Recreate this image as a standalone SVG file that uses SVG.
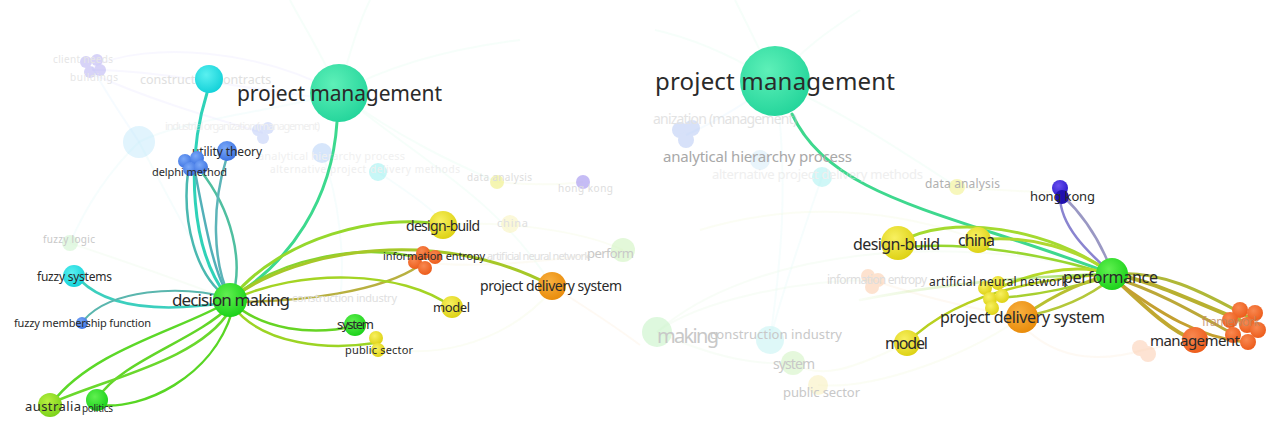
<svg xmlns="http://www.w3.org/2000/svg" width="1266" height="423" viewBox="0 0 1266 423">
<defs>
<radialGradient id="gPM" cx="40%" cy="35%" r="70%"><stop offset="0" stop-color="#5ef0b8"/><stop offset="1" stop-color="#22d49a"/></radialGradient>
<radialGradient id="gCyan" cx="40%" cy="35%" r="70%"><stop offset="0" stop-color="#5af0f0"/><stop offset="1" stop-color="#10d0d8"/></radialGradient>
<radialGradient id="gBlue" cx="40%" cy="35%" r="70%"><stop offset="0" stop-color="#7aa8f8"/><stop offset="1" stop-color="#3a70e0"/></radialGradient>
<radialGradient id="gGreen" cx="40%" cy="35%" r="70%"><stop offset="0" stop-color="#60f050"/><stop offset="1" stop-color="#18d018"/></radialGradient>
<radialGradient id="gLime" cx="40%" cy="35%" r="70%"><stop offset="0" stop-color="#b8f040"/><stop offset="1" stop-color="#78d018"/></radialGradient>
<radialGradient id="gYellow" cx="40%" cy="35%" r="70%"><stop offset="0" stop-color="#f8f060"/><stop offset="1" stop-color="#dcd010"/></radialGradient>
<radialGradient id="gOrange" cx="40%" cy="35%" r="70%"><stop offset="0" stop-color="#f8b040"/><stop offset="1" stop-color="#e88a08"/></radialGradient>
<radialGradient id="gRed" cx="40%" cy="35%" r="70%"><stop offset="0" stop-color="#f88850"/><stop offset="1" stop-color="#ec5a18"/></radialGradient>
<radialGradient id="gViolet" cx="40%" cy="35%" r="70%"><stop offset="0" stop-color="#6a50f0"/><stop offset="1" stop-color="#2a18c8"/></radialGradient>
<linearGradient id="gFadeL" x1="0" y1="0" x2="1" y2="0"><stop offset="0" stop-color="#88d430" stop-opacity="0.05"/><stop offset="0.6" stop-color="#88d430" stop-opacity="0.35"/><stop offset="1" stop-color="#88d430" stop-opacity="1"/></linearGradient>
</defs>
<style>
.e{fill:none;stroke-linecap:round}
.bg{fill:none;stroke-width:2;opacity:0.35}
.t{font-family:"Noto Sans","Open Sans",sans-serif;fill:#2a2a2a}
.f{font-family:"Noto Sans","Open Sans",sans-serif;fill:#c8c8c8}
.ff{font-family:"Noto Sans","Open Sans",sans-serif;fill:#e0e0e0}
</style>
<rect width="1266" height="423" fill="#ffffff"/>

<!-- faint background connectors -->
<g id="faint-connectors">
  <path class="bg" stroke="#e4f4ff" d="M92,67 C110,100 125,120 139,142"/>
  <path class="bg" stroke="#ece8ff" d="M92,67 C150,40 260,50 339,93"/>
  <path class="bg" stroke="#ece8ff" d="M92,70 C160,70 250,90 339,100"/>
  <path class="bg" stroke="#ece8ff" d="M95,75 C150,100 220,120 263,133"/>
  <path class="bg" stroke="#e4f8f8" d="M139,142 C180,120 280,110 339,93"/>
  <path class="bg" stroke="#e4f8f8" d="M139,142 C100,180 80,220 70,243"/>
  <path class="bg" stroke="#e4f8f8" d="M139,142 C170,200 200,260 230,300"/>
  <path class="bg" stroke="#e4fbf2" d="M339,93 C350,50 360,20 370,0"/>
  <path class="bg" stroke="#e4fbf2" d="M339,93 C320,50 300,20 290,0"/>
  <path class="bg" stroke="#e4fbf2" d="M339,93 C380,70 440,50 520,40"/>
  <path class="bg" stroke="#e4fbf2" d="M339,93 C400,140 470,170 497,182"/>
  <path class="bg" stroke="#e4fbf2" d="M339,93 C420,160 500,200 552,286"/>
  <path class="bg" stroke="#f4f8e0" d="M497,182 C530,185 560,185 583,182"/>
  <path class="bg" stroke="#f4f8e0" d="M443,225 C500,220 580,230 623,250"/>
  <path class="bg" stroke="#f8f4e0" d="M420,262 C480,270 560,260 623,250"/>
  <path class="bg" stroke="#fbeedd" d="M552,286 C590,310 620,330 640,345"/>
  <path class="bg" stroke="#e4f8f8" d="M378,172 C420,200 440,215 443,225"/>
  <path class="bg" stroke="#e4f8f8" d="M322,153 C340,200 345,260 340,300"/>
  <path class="bg" stroke="#f4f8e0" d="M375,345 C420,360 500,350 552,290"/>
  <path class="bg" stroke="#eaf8e8" d="M70,243 C120,260 180,280 230,300"/>

  <path class="bg" stroke="#e4fbf2" d="M775,82 C740,60 700,40 655,30"/>
  <path class="bg" stroke="#e4fbf2" d="M775,82 C760,50 745,20 735,0"/>
  <path class="bg" stroke="#e4fbf2" d="M775,82 C800,50 830,30 860,10"/>
  <path class="bg" stroke="#e4fbf2" d="M775,82 C840,110 900,150 957,187"/>
  <path class="bg" stroke="#e4f4ff" d="M686,135 C720,120 750,100 775,82"/>
  <path class="bg" stroke="#e4f8f8" d="M822,177 C800,240 780,300 770,340"/>
  <path class="bg" stroke="#e4f8f8" d="M775,82 C790,180 780,270 770,340"/>
  <path class="bg" stroke="#eaf8e8" d="M657,332 C700,300 800,280 873,280"/>
  <path class="bg" stroke="#eaf8e8" d="M657,332 C720,360 760,365 793,363"/>
  <path class="bg" stroke="#f4f8e0" d="M793,363 C820,380 850,370 907,343"/>
  <path class="bg" stroke="#f4f8e0" d="M818,385 C870,390 960,360 1022,317"/>
  <path class="bg" stroke="#fbeedd" d="M873,280 C930,300 980,310 1022,317"/>
  <path class="bg" stroke="#f4f8e0" d="M957,187 C990,190 1030,192 1060,192"/>
  <path class="bg" stroke="#eaf8e8" d="M657,332 C750,250 950,230 1112,274"/>
  <path class="bg" stroke="#f4f8e0" d="M700,230 C800,200 900,210 978,240"/>
  <path class="bg" stroke="#fbeedd" d="M1022,325 C1060,365 1110,360 1143,350"/>
  <path class="bg" stroke="#fbeedd" d="M1143,350 C1170,345 1185,342 1195,340"/>
</g>

<!-- main connectors -->
<g id="connectors">
  <!-- left panel -->
  <path class="e" stroke="#3cd98e" stroke-width="3" d="M337,122 C332,200 290,262 232,298"/>
  <path class="e" stroke="#2fd2b8" stroke-width="3" d="M207,93 C186,160 190,250 228,298"/>
  <path class="e" stroke="#4ab8b0" stroke-width="2.5" d="M188,172 C182,220 195,276 228,298"/>
  <path class="e" stroke="#52b0b8" stroke-width="2.5" d="M195,172 C206,228 214,275 230,298"/>
  <path class="e" stroke="#4fbfa0" stroke-width="2.5" d="M200,170 C232,210 244,262 232,298"/>
  <path class="e" stroke="#5cb4b8" stroke-width="2.5" d="M226,160 C212,205 212,262 230,298"/>
  <path class="e" stroke="#96d82c" stroke-width="3" d="M232,298 C280,238 380,212 443,225"/>
  <path class="e" stroke="#86d430" stroke-width="2.5" d="M232,298 C280,258 360,243 420,258"/>
  <path class="e" stroke="#b8b040" stroke-width="2.5" d="M232,302 C300,302 382,292 420,265"/>
  <path class="e" stroke="#a6c828" stroke-width="3" d="M232,298 C300,248 440,226 552,286"/>
  <path class="e" stroke="#a4d424" stroke-width="2.5" d="M232,300 C300,268 402,270 452,307"/>
  <path class="e" stroke="#66d424" stroke-width="2.5" d="M232,302 C262,330 312,336 355,326"/>
  <path class="e" stroke="#9cd424" stroke-width="2.5" d="M232,305 C262,346 330,350 375,343"/>
  <path class="e" stroke="#5cd828" stroke-width="2.5" d="M228,302 C180,330 92,350 52,403"/>
  <path class="e" stroke="#62d628" stroke-width="2.5" d="M230,306 C196,340 120,362 98,398"/>
  <path class="e" stroke="#58d624" stroke-width="2.5" d="M232,312 C212,378 142,410 100,405"/>
  <path class="e" stroke="#6ad82c" stroke-width="2.5" d="M230,310 C200,360 108,378 54,402"/>
  <path class="e" stroke="#3ccfbe" stroke-width="2.5" d="M80,280 C100,300 142,316 230,302"/>
  <path class="e" stroke="#5ab6ae" stroke-width="2" d="M84,320 C110,290 178,284 230,298"/>
  <!-- right panel -->
  <path class="e" stroke="#3ed88e" stroke-width="3" d="M792,114 C832,200 950,212 1112,274"/>
  <path class="e" stroke="#a4da30" stroke-width="3" d="M898,243 C950,212 1050,228 1112,274"/>
  <path class="e" stroke="#98d630" stroke-width="2.5" d="M900,248 C960,240 1050,255 1110,275"/>
  <path class="e" stroke="#b0d830" stroke-width="3" d="M978,240 C1030,234 1080,250 1112,274"/>
  <path class="e" stroke="#8a84d0" stroke-width="2.5" d="M1060,196 C1060,226 1088,252 1110,272"/>
  <path class="e" stroke="#9a98c4" stroke-width="2.5" d="M1063,196 C1082,214 1100,240 1112,272"/>
  <path class="e" stroke="#b6d828" stroke-width="3" d="M998,288 C1040,270 1080,264 1112,274"/>
  <path class="e" stroke="#a8d030" stroke-width="2.5" d="M995,298 C1040,296 1080,285 1112,276"/>
  <path class="e" stroke="#b8c030" stroke-width="3" d="M1022,317 C1060,290 1090,280 1112,274"/>
  <path class="e" stroke="#b4c83a" stroke-width="2.5" d="M1022,317 C1060,310 1090,296 1112,278"/>
  <path class="e" stroke="#b8d020" stroke-width="2.5" d="M907,343 C940,310 1000,280 1112,274"/>
  <path class="e" stroke="url(#gFadeL)" stroke-width="2.5" d="M860,300 C950,282 1040,276 1112,274"/>
  <path class="e" stroke="#b8b030" stroke-width="4" d="M1112,274 C1150,280 1185,298 1240,320"/>
  <path class="e" stroke="#c0a830" stroke-width="4" d="M1112,276 C1140,302 1170,332 1195,340"/>
  <path class="e" stroke="#bca838" stroke-width="3" d="M1115,278 C1160,292 1200,316 1235,335"/>
  <path class="e" stroke="#c4a030" stroke-width="3" d="M1112,278 C1160,314 1200,338 1245,342"/>
  <path class="e" stroke="#b0b838" stroke-width="3" d="M1112,274 C1160,270 1200,290 1250,318"/>
</g>

<!-- faint nodes & labels (left) -->
<g id="n-client-needs" opacity="0.45">
  <circle cx="86" cy="62" r="6" fill="#a8a0f0"/><circle cx="97" cy="60" r="6" fill="#a8a0f0"/>
  <circle cx="90" cy="72" r="6" fill="#a8a0f0"/><circle cx="100" cy="70" r="6" fill="#a8a0f0"/>
  <text class="f" x="53" y="63" font-size="10" textLength="60">client needs</text>
  <text class="f" x="70" y="81" font-size="10" textLength="48">buildings</text>
</g>
<g id="n-bigfaint" opacity="0.35"><circle cx="139" cy="142" r="16" fill="#a8e0f8"/></g>
<g id="n-construction-contracts"><text class="ff" x="140" y="84" font-size="12.5">construction contracts</text></g>
<g id="n-industrial-org" opacity="0.5">
  <circle cx="258" cy="130" r="6" fill="#b8c8f8"/><circle cx="268" cy="128" r="6" fill="#b8c8f8"/><circle cx="263" cy="138" r="6" fill="#b8c8f8"/>
  <text class="ff" x="165" y="130" font-size="11" textLength="155">industrial organization (management)</text>
</g>
<g id="n-ahp-left" opacity="0.45"><circle cx="322" cy="153" r="10" fill="#a8c8f8"/>
  <text class="ff" x="258" y="160" font-size="11" textLength="147">analytical hierarchy process</text></g>
<g id="n-apdm-left" opacity="0.5"><circle cx="378" cy="172" r="9" fill="#90f0f0"/>
  <text class="ff" x="270" y="173" font-size="10" textLength="190">alternative project delivery methods</text></g>
<g id="n-data-analysis-left" opacity="0.6"><circle cx="497" cy="182" r="7" fill="#f0f080"/>
  <text class="f" x="467" y="181" font-size="10" textLength="65">data analysis</text></g>
<g id="n-hong-kong-left" opacity="0.6"><circle cx="583" cy="182" r="7" fill="#a090f0"/>
  <text class="f" x="558" y="192" font-size="10" textLength="55">hong kong</text></g>
<g id="n-china-left"><circle cx="510" cy="224" r="9" fill="#f8f4c0" opacity="0.6"/><text class="ff" x="497" y="227" font-size="11" textLength="31">china</text></g>
<g id="n-ann-left"><text class="ff" x="487" y="260" font-size="11" textLength="103">artificial neural network</text></g>
<g id="n-perform-left"><circle cx="623" cy="250" r="12" fill="#d0f4c0" opacity="0.6"/><text class="f" x="587" y="258" font-size="13" textLength="47">perform</text></g>
<g id="n-construction-industry-left"><text class="ff" x="292" y="302" font-size="11" textLength="105">construction industry</text></g>
<g id="n-fuzzy-logic"><circle cx="70" cy="243" r="8" fill="#d0f4d0" opacity="0.6"/><text class="f" x="43" y="243" font-size="10" textLength="52">fuzzy logic</text></g>

<!-- main nodes (left) -->
<g id="n-cyan-left"><circle cx="209" cy="79" r="14" fill="url(#gCyan)"/></g>
<g id="n-project-management-left"><circle cx="339" cy="93" r="29" fill="url(#gPM)"/>
  <text class="t" x="237" y="101" font-size="21" textLength="205">project management</text></g>
<g id="n-utility-theory"><circle cx="227" cy="151" r="10" fill="url(#gBlue)"/>
  <text class="t" x="192" y="156" font-size="12" textLength="70">utility theory</text></g>
<g id="n-delphi-method">
  <circle cx="185" cy="161" r="7" fill="url(#gBlue)"/><circle cx="197" cy="158" r="7" fill="url(#gBlue)"/>
  <circle cx="190" cy="169" r="7" fill="url(#gBlue)"/><circle cx="201" cy="167" r="7" fill="url(#gBlue)"/>
  <text class="t" x="152" y="176" font-size="11" textLength="75">delphi method</text></g>
<g id="n-design-build-left"><circle cx="443" cy="225" r="14" fill="url(#gYellow)"/>
  <text class="t" x="406" y="231" font-size="14" textLength="74">design-build</text></g>
<g id="n-information-entropy-left">
  <circle cx="423" cy="253" r="7" fill="url(#gRed)"/><circle cx="435" cy="257" r="7" fill="url(#gRed)"/>
  <circle cx="415" cy="262" r="7" fill="url(#gRed)"/><circle cx="425" cy="268" r="7" fill="url(#gRed)"/>
  <text class="t" x="383" y="260" font-size="11" textLength="102">information entropy</text></g>
<g id="n-project-delivery-system-left"><circle cx="552" cy="286" r="14" fill="url(#gOrange)"/>
  <text class="t" x="480" y="291" font-size="14" textLength="142">project delivery system</text></g>
<g id="n-model-left"><circle cx="452" cy="307" r="11" fill="url(#gYellow)"/>
  <text class="t" x="433" y="312" font-size="13" textLength="37">model</text></g>
<g id="n-system-left"><circle cx="355" cy="325" r="11" fill="url(#gGreen)"/>
  <text class="t" x="337" y="329" font-size="13" textLength="37">system</text></g>
<g id="n-public-sector-left"><circle cx="376" cy="338" r="7" fill="url(#gYellow)"/><circle cx="378" cy="350" r="7" fill="url(#gYellow)"/>
  <text class="t" x="345" y="354" font-size="11" textLength="68">public sector</text></g>
<g id="n-decision-making"><circle cx="230" cy="300" r="17" fill="url(#gGreen)"/>
  <text class="t" x="172" y="306" font-size="17" textLength="118">decision making</text></g>
<g id="n-fuzzy-systems"><circle cx="74" cy="276" r="11" fill="url(#gCyan)"/>
  <text class="t" x="37" y="281" font-size="12" textLength="75">fuzzy systems</text></g>
<g id="n-fuzzy-membership-function"><circle cx="82" cy="323" r="6" fill="url(#gBlue)"/>
  <text class="t" x="14" y="327" font-size="11" textLength="137">fuzzy membership function</text></g>
<g id="n-australia"><circle cx="50" cy="405" r="12" fill="url(#gLime)"/>
  <text class="t" x="25" y="411" font-size="13" textLength="56">australia</text></g>
<g id="n-politics"><circle cx="97" cy="400" r="11" fill="url(#gGreen)"/>
  <text class="t" x="82" y="412" font-size="10" textLength="31">politics</text></g>

<!-- faint nodes & labels (right) -->
<g id="n-industrial-org-right" opacity="0.5">
  <circle cx="680" cy="130" r="8" fill="#b0c4f4"/><circle cx="692" cy="128" r="8" fill="#b0c4f4"/>
  <circle cx="686" cy="140" r="8" fill="#b0c4f4"/>
  <text class="f" x="653" y="124" font-size="14" textLength="144">anization (management)</text></g>
<g id="n-ahp-right"><circle cx="760" cy="160" r="10" fill="#d8ecf8" opacity="0.6"/>
  <text x="663" y="162" font-family="Noto Sans, Open Sans, sans-serif" fill="#a8a8a8" font-size="15" textLength="189">analytical hierarchy process</text></g>
<g id="n-apdm-right" opacity="0.5"><circle cx="822" cy="177" r="10" fill="#a0f0f0"/>
  <text class="ff" x="712" y="179" font-size="13" textLength="211">alternative project delivery methods</text></g>
<g id="n-data-analysis-right"><circle cx="957" cy="187" r="8" fill="#f4f4a0" opacity="0.7"/>
  <text x="925" y="188" font-family="Noto Sans, Open Sans, sans-serif" fill="#b0b0b0" font-size="12" textLength="75">data analysis</text></g>
<g id="n-information-entropy-right" opacity="0.6"><circle cx="868" cy="276" r="7" fill="#fcd0b0"/><circle cx="878" cy="280" r="7" fill="#fcd0b0"/><circle cx="872" cy="287" r="7" fill="#fcd0b0"/>
  <text class="f" x="827" y="284" font-size="12" textLength="100">information entropy</text></g>
<g id="n-making-right"><circle cx="657" cy="332" r="15" fill="#c8f4c8" opacity="0.6"/>
  <text class="f" x="657" y="343" font-size="20" textLength="62">making</text></g>
<g id="n-construction-industry-right"><circle cx="770" cy="340" r="14" fill="#c8f4f4" opacity="0.6"/>
  <text class="f" x="710" y="339" font-size="13" textLength="132">construction industry</text></g>
<g id="n-system-right"><circle cx="793" cy="363" r="12" fill="#d4f4c4" opacity="0.6"/>
  <text class="f" x="773" y="369" font-size="14" textLength="42">system</text></g>
<g id="n-public-sector-right"><circle cx="818" cy="385" r="10" fill="#f8f0c0" opacity="0.6"/>
  <text class="f" x="783" y="397" font-size="13" textLength="77">public sector</text></g>
<g id="n-peach-right" opacity="0.5"><circle cx="1140" cy="348" r="8" fill="#fcc8a8"/><circle cx="1148" cy="354" r="8" fill="#fcc8a8"/></g>

<!-- main nodes (right) -->
<g id="n-project-management-right"><circle cx="775" cy="81" r="35" fill="url(#gPM)"/>
  <text class="t" x="655" y="90" font-size="24" textLength="240">project management</text></g>
<g id="n-hong-kong-right"><circle cx="1060" cy="188" r="8" fill="url(#gViolet)"/><circle cx="1062" cy="197" r="7" fill="#2010b0"/>
  <text class="t" x="1030" y="201" font-size="13" textLength="65">hong kong</text></g>
<g id="n-design-build-right"><circle cx="898" cy="243" r="17" fill="url(#gYellow)"/>
  <text class="t" x="853" y="250" font-size="16" textLength="87">design-build</text></g>
<g id="n-china-right"><circle cx="978" cy="240" r="13" fill="url(#gYellow)"/>
  <text class="t" x="958" y="246" font-size="16" textLength="37">china</text></g>
<g id="n-ann-right">
  <circle cx="985" cy="288" r="7" fill="url(#gYellow)"/><circle cx="998" cy="283" r="7" fill="url(#gYellow)"/>
  <circle cx="990" cy="299" r="7" fill="url(#gYellow)"/><circle cx="1002" cy="296" r="7" fill="url(#gYellow)"/>
  <circle cx="992" cy="308" r="7" fill="url(#gYellow)"/>
  <text class="t" x="929" y="286" font-size="12" textLength="139">artificial neural network</text></g>
<g id="n-project-delivery-system-right"><circle cx="1022" cy="317" r="16" fill="url(#gOrange)"/>
  <text class="t" x="940" y="323" font-size="16" textLength="165">project delivery system</text></g>
<g id="n-model-right"><circle cx="907" cy="343" r="13" fill="url(#gYellow)"/>
  <text class="t" x="885" y="349" font-size="16" textLength="43">model</text></g>
<g id="n-performance"><circle cx="1112" cy="274" r="16" fill="url(#gGreen)"/>
  <text class="t" x="1063" y="283" font-size="16" textLength="95">performance</text></g>
<g id="n-framework">
  <circle cx="1240" cy="310" r="8" fill="url(#gRed)"/><circle cx="1255" cy="313" r="8" fill="url(#gRed)"/>
  <circle cx="1230" cy="320" r="8" fill="url(#gRed)"/><circle cx="1247" cy="325" r="8" fill="url(#gRed)"/>
  <circle cx="1258" cy="330" r="8" fill="url(#gRed)"/><circle cx="1248" cy="342" r="8" fill="url(#gRed)"/>
  <circle cx="1233" cy="335" r="8" fill="url(#gRed)"/>
  <text x="1202" y="326" font-family="Noto Sans, Open Sans, sans-serif" fill="#c08860" opacity="0.8" font-size="12" textLength="58">framework</text></g>
<g id="n-management"><circle cx="1195" cy="340" r="13" fill="url(#gRed)"/>
  <text class="t" x="1150" y="346" font-size="15" textLength="90">management</text></g>
</svg>
